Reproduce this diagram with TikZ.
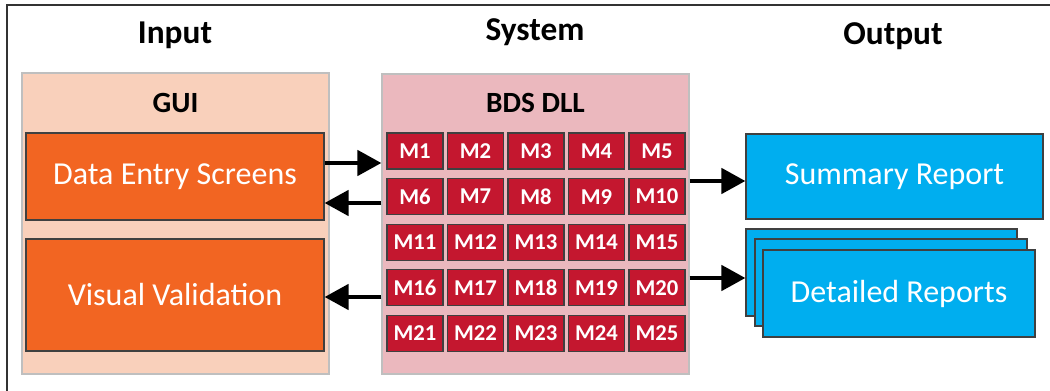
\documentclass[tikz,border=0pt]{standalone}
\usepackage{fontspec}
\setmainfont{Carlito}
\usetikzlibrary{arrows.meta}
\definecolor{peach}{HTML}{F9D0BB}
\definecolor{orangebox}{HTML}{F26522}
\definecolor{pinkbox}{HTML}{EBB8BE}
\definecolor{crimson}{HTML}{C4172F}
\definecolor{bluebox}{HTML}{00AEEF}
\tikzset{
  container/.style={draw=black!25, line width=1pt, inner sep=0pt},
  obox/.style={draw=black!75, line width=1pt, fill=orangebox, text=white, font=\fontsize{24}{27}\selectfont, inner sep=0pt, minimum width=223.5pt},
  mbox/.style={draw=black!75, line width=1pt, fill=crimson, text=white, font=\bfseries\fontsize{17}{19}\selectfont, inner sep=0pt, minimum width=42pt, minimum height=27pt},
  bbox/.style={draw=black!75, line width=1pt, fill=bluebox, text=white, font=\fontsize{24}{27}\selectfont, inner sep=0pt},
  title/.style={font=\bfseries\fontsize{25}{28}\selectfont, text=black},
  subtitle/.style={font=\bfseries\fontsize{22}{25}\selectfont, text=black},
  arr/.style={line width=3pt, -{Triangle[length=18pt,width=19pt]}},
}
\begin{document}
\begin{tikzpicture}[x=0.75pt,y=-0.75pt]
\useasboundingbox (0,0) rectangle (1050,391);
\draw[black!80, line width=1.2pt] (7,391) -- (7,5) -- (1050,5);
% titles
\node[title] (tin) at (175,35) {Input};
\node[title] (tsys) at (535,32) {System};
\node[title] (tout) at (893,36) {Output};
% GUI container
\node[container, fill=peach, minimum width=230.25pt, minimum height=225.75pt] (gui) at (175.5,223.5) {};
\node[subtitle] (guil) at (175.5,103) {GUI};
\node[obox, minimum height=65.25pt] (des) at (175,176.5) {Data Entry Screens};
\node[obox, minimum height=84pt] (vv) at (175,295) {Visual Validation};
% BDS container
\node[container, fill=pinkbox, minimum width=230.25pt, minimum height=225pt] (bds) at (535.5,224) {};
\node[subtitle] (bdsl) at (535.5,103) {BDS DLL};
\foreach \r in {0,...,4}{
  \foreach \c in {0,...,4}{
    \pgfmathtruncatemacro{\n}{\r*5+\c+1}
    \node[mbox] (m\n) at ({415+60.5*\c},{151+45.6*\r}) {M\n};
  }
}
% outputs
\node[bbox, minimum width=222.75pt, minimum height=63.75pt] (sum) at (894.5,176.5) {Summary Report};
\node[bbox, minimum width=203.25pt, minimum height=65.25pt] (d1) at (881.5,272.5) {};
\node[bbox, minimum width=204pt, minimum height=65.25pt] (d2) at (891,282.5) {};
\node[bbox, minimum width=204pt, minimum height=65.25pt] (d3) at (899,293.5) {Detailed Reports};
% arrows
\draw[arr] (des.east |- 0,163) -- (bds.west |- 0,163);
\draw[arr] (bds.west |- 0,203) -- (des.east |- 0,203);
\draw[arr] (bds.west |- 0,297) -- (vv.east |- 0,297);
\draw[arr] (bds.east |- 0,181) -- (sum.west |- 0,181);
\draw[arr] (bds.east |- 0,278) -- (d1.west |- 0,278);
\end{tikzpicture}
\end{document}
